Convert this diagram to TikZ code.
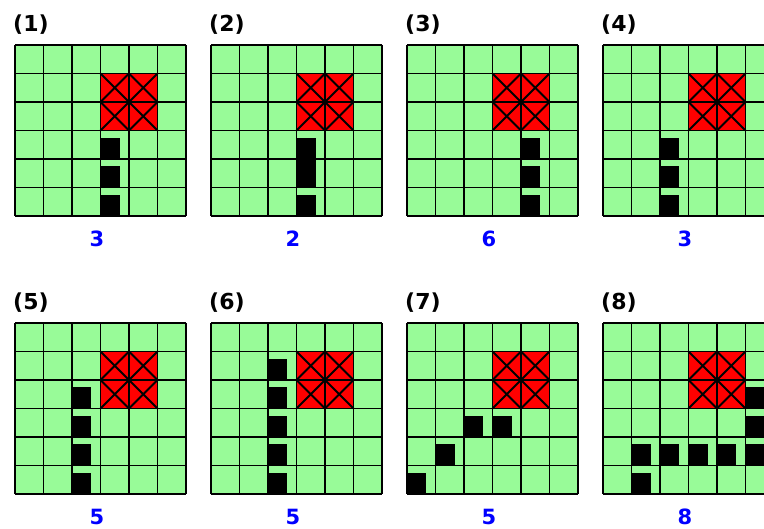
\documentclass[tikz,border=0pt]{standalone}
\usepackage{fontspec}
\setmainfont{DejaVu Sans}
\usepackage{tikz}
\definecolor{cellgreen}{RGB}{152, 251, 152}
\definecolor{wallred}{RGB}{255, 0, 0}
\definecolor{scoreblue}{RGB}{0, 0, 255}
\tikzset{
  gridline/.style={black, line width=1.8pt},
  block/.style={fill=black},
  panellabel/.style={font=\fontsize{22}{26}\selectfont\bfseries, anchor=base west, inner sep=0pt},
  scorelabel/.style={text=scoreblue, font=\fontsize{21}{25}\selectfont\bfseries, anchor=base, inner sep=0pt}
}
\begin{document}
\begin{tikzpicture}[x=1pt, y=-1pt]
  \useasboundingbox (0,0) rectangle (764,529);
  \clip (0,0) rectangle (764,529);
  \def\cellsz{28.5}
  \foreach \px/\py/\lab/\num/\blocks in {
    15/45/1/3/{3/3/0.75,3/4/0.75,3/5/0.75},
    211/45/2/2/{3/3/0.75,3/4/1,3/5/0.75},
    407/45/3/6/{4/3/0.75,4/4/0.75,4/5/0.75},
    603/45/4/3/{2/3/0.75,2/4/0.75,2/5/0.75},
    15/323/5/5/{2/2/0.75,2/3/0.75,2/4/0.75,2/5/0.75},
    211/323/6/5/{2/1/0.75,2/2/0.75,2/3/0.75,2/4/0.75,2/5/0.75},
    407/323/7/5/{2/3/0.75,3/3/0.75,1/4/0.75,0/5/0.75},
    603/323/8/8/{5/2/0.75,5/3/0.75,1/4/0.75,2/4/0.75,3/4/0.75,4/4/0.75,5/4/0.75,1/5/0.75}} {
    \begin{scope}[shift={(\px,\py)}]
      % board and wall
      \fill[cellgreen] (0,0) rectangle (6*\cellsz,6*\cellsz);
      \fill[wallred] (3*\cellsz,\cellsz) rectangle (5*\cellsz,3*\cellsz);
      \foreach \cx/\ry/\hh in \blocks
        \fill[block] (\cx*\cellsz,\ry*\cellsz+\cellsz) rectangle ++(0.67*\cellsz,-\hh*\cellsz);
      \foreach \k in {0,...,6} {
        \draw[gridline] (\k*\cellsz,0) -- (\k*\cellsz,6*\cellsz);
        \draw[gridline] (0,\k*\cellsz) -- (6*\cellsz,\k*\cellsz);
      }
      \foreach \cx/\ry in {3/1,4/1,3/2,4/2} {
        \draw[gridline] (\cx*\cellsz,\ry*\cellsz) -- ++(\cellsz,\cellsz);
        \draw[gridline] (\cx*\cellsz+\cellsz,\ry*\cellsz) -- ++(-\cellsz,\cellsz);
      }
      \node[panellabel] (lab\lab) at (-2,-13) {(\lab)};
      \node[scorelabel] (num\lab) at (82,201.5) {\num};
    \end{scope}
  }
\end{tikzpicture}
\end{document}
